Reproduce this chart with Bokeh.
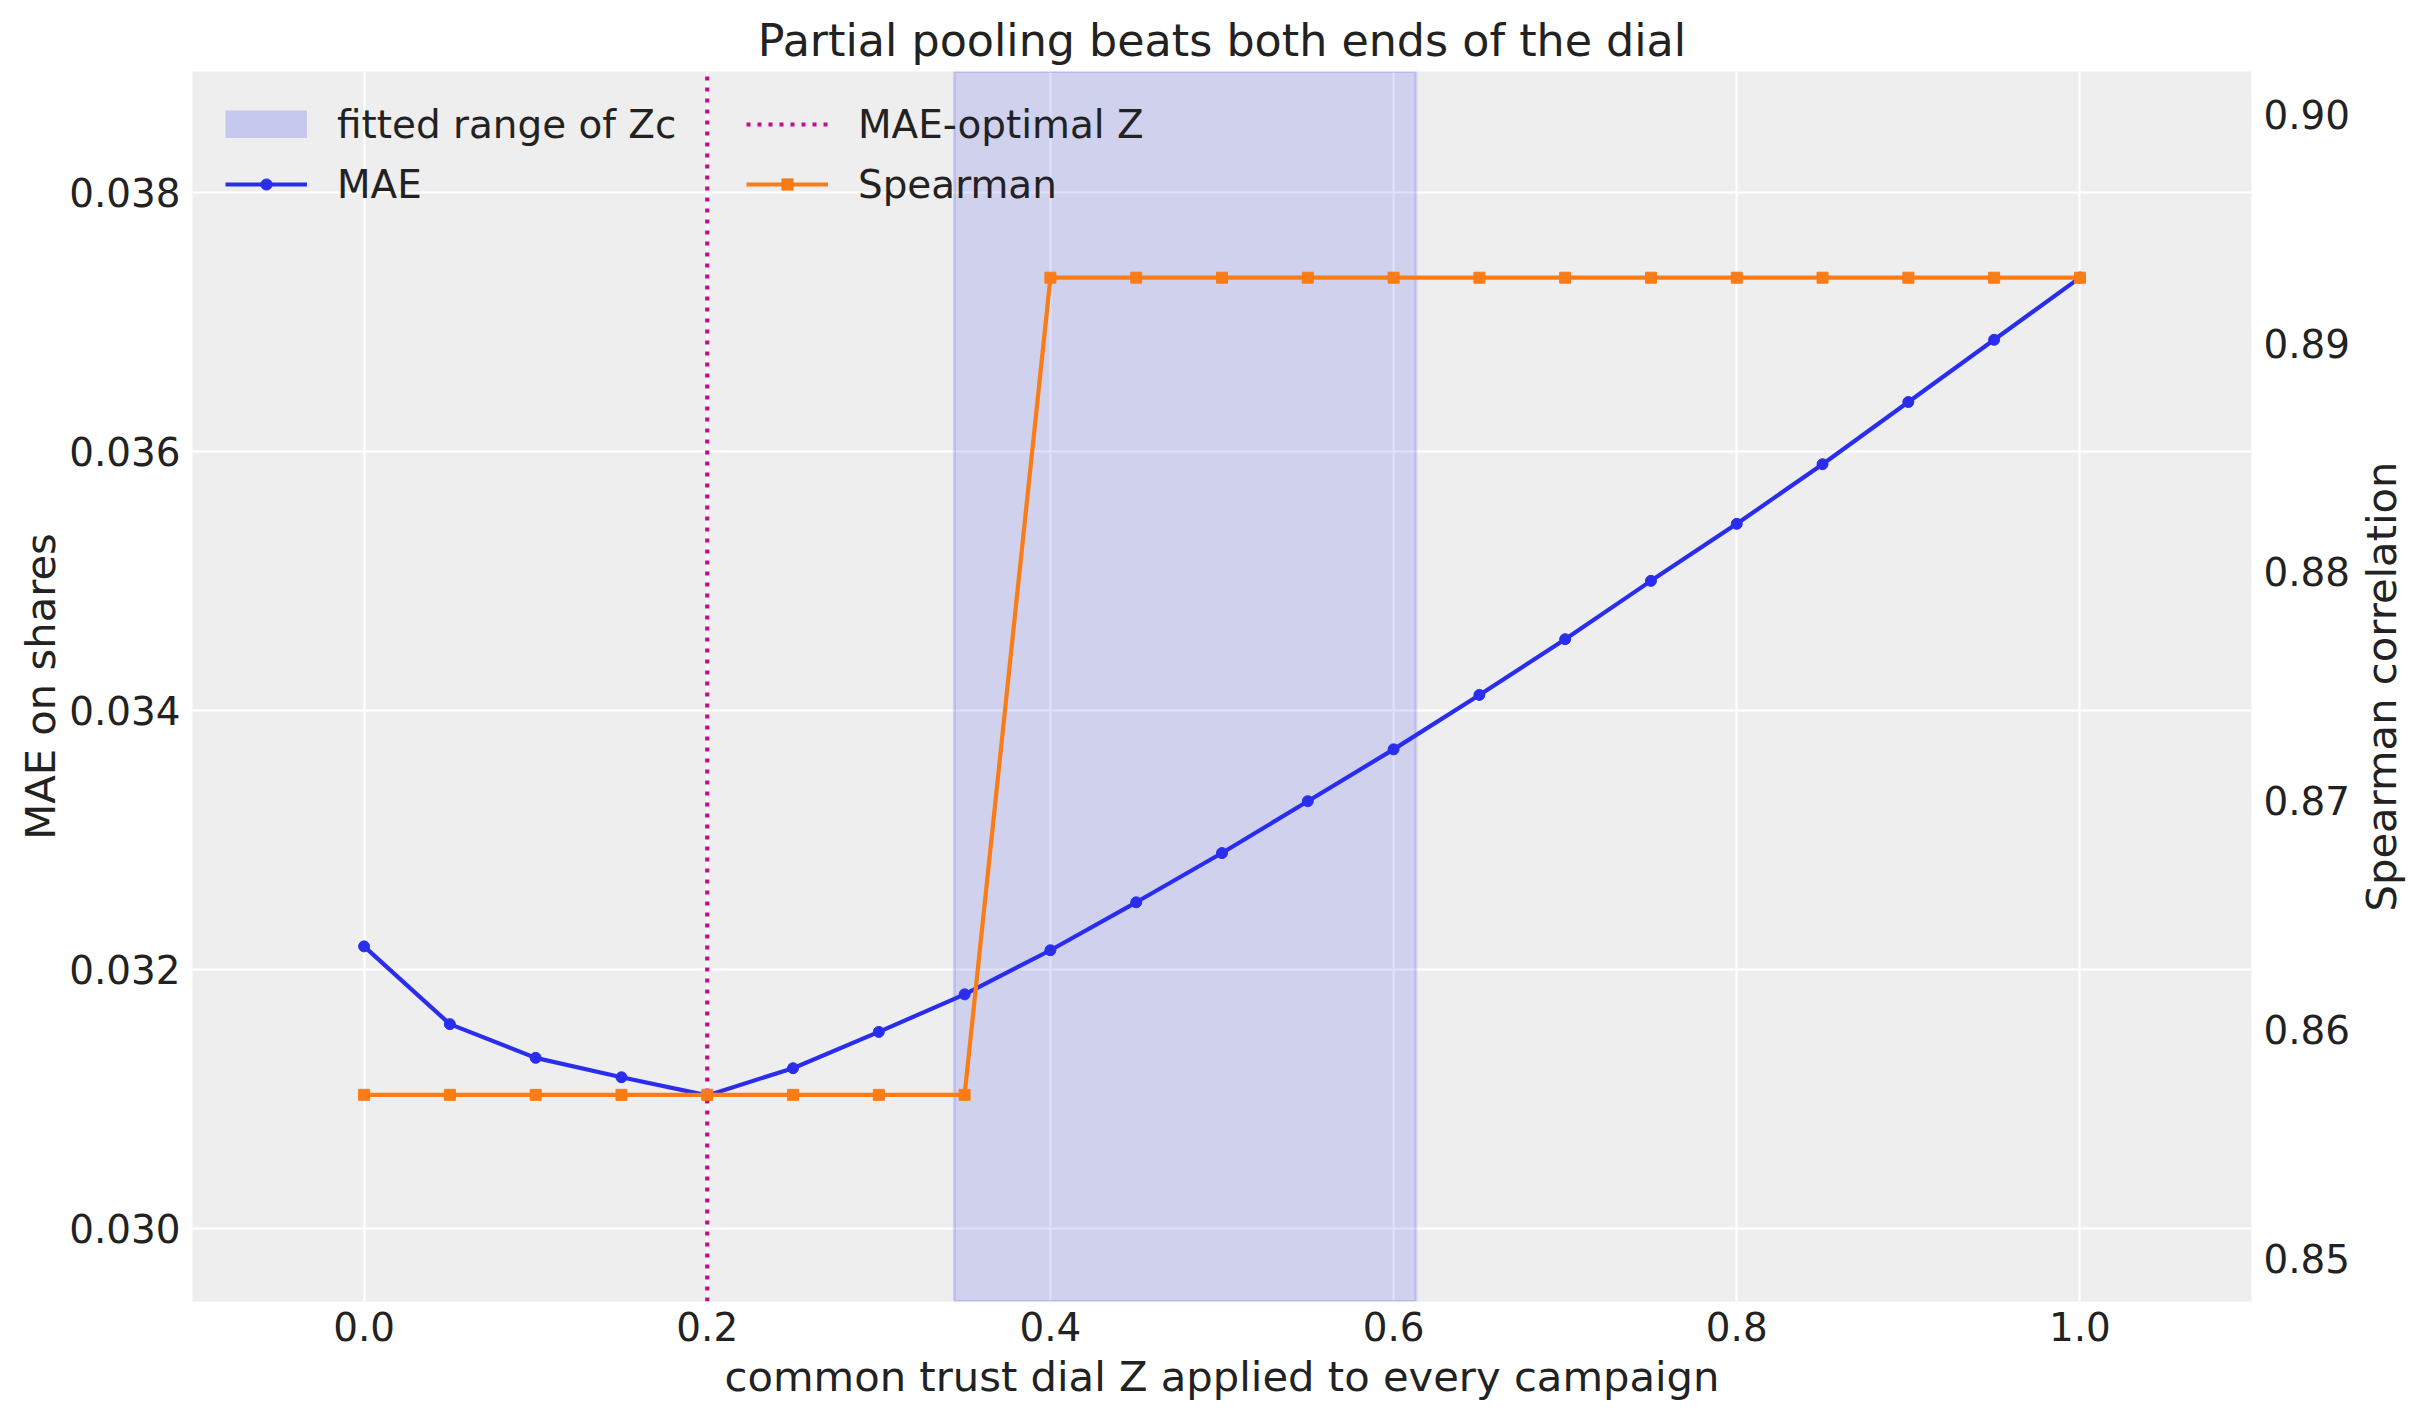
from bokeh.plotting import figure
from bokeh.layouts import row
from bokeh.models import (Range1d, LinearAxis, Legend, LegendItem, FixedTicker,
                          PrintfTickFormatter)
from bokeh.embed import file_html
from bokeh.resources import INLINE

# ---------------- data ----------------
z_values = [0.0, 0.05, 0.1, 0.15, 0.2, 0.25, 0.3, 0.35, 0.4, 0.45, 0.5,
            0.55, 0.6, 0.65, 0.7, 0.75, 0.8, 0.85, 0.9, 0.95, 1.0]
mae_values = [0.03218, 0.03158, 0.03132, 0.03117, 0.03103, 0.03124, 0.03152,
              0.03181, 0.03215, 0.03252, 0.03290, 0.03330, 0.03370, 0.03412,
              0.03455, 0.03500, 0.03544, 0.03590, 0.03638, 0.03686, 0.03734]
spearman_values = [0.857143, 0.857143, 0.857143, 0.857143, 0.857143, 0.857143,
                   0.857143, 0.857143, 0.892857, 0.892857, 0.892857, 0.892857,
                   0.892857, 0.892857, 0.892857, 0.892857, 0.892857, 0.892857,
                   0.892857, 0.892857, 0.892857]
fitted_range = [0.344, 0.613]
mae_optimal_z = [0.2]

x_ticks = [0.0, 0.2, 0.4, 0.6, 0.8, 1.0]
mae_ticks = [0.030, 0.032, 0.034, 0.036, 0.038]
sp_ticks = [0.85, 0.86, 0.87, 0.88, 0.89, 0.90]

x_lim = (-0.1, 1.1)
mae_lim = (0.02944, 0.03893)
sp_lim = (0.84811, 0.90187)

title_text = "Partial pooling beats both ends of the dial"
x_label = "common trust dial Z applied to every campaign"
y_label = "MAE on shares"
y2_label = "Spearman correlation"
labels = ["fitted range of Zc", "MAE", "MAE-optimal Z", "Spearman"]

# ---------------- style ----------------
BLUE = "#2a2eec"
ORANGE = "#fa7c17"
MAGENTA = "#c10c90"
TEXT = "#222222"
FONT = "DejaVu Sans"
TICK_FS = "38.9px"
LABEL_FS = "41.7px"
TITLE_FS = "44.4px"

FRAME_W, FRAME_H = 2059, 1230
BORDER_TOP, BORDER_BOTTOM = 71, 95

p = figure(frame_width=FRAME_W, frame_height=FRAME_H,
           min_border_left=192, min_border_right=100,
           min_border_top=BORDER_TOP, min_border_bottom=BORDER_BOTTOM,
           x_range=Range1d(*x_lim), y_range=Range1d(*mae_lim),
           output_backend="svg", toolbar_location=None,
           background_fill_color="#eeeeee", border_fill_color="white",
           outline_line_color=None)

p.extra_y_ranges = {"sp": Range1d(*sp_lim)}

# title
p.title.text = title_text
p.title.align = "center"
p.title.text_font = FONT
p.title.text_font_size = TITLE_FS
p.title.text_font_style = "normal"
p.title.text_color = TEXT
p.title.standoff = 12

# fitted range span (first in draw order)
span_r = p.quad(left=[fitted_range[0]], right=[fitted_range[1]],
                bottom=[mae_lim[0]], top=[mae_lim[1]],
                fill_color=BLUE, fill_alpha=0.15,
                line_color=BLUE, line_alpha=0.15, line_width=3)

# MAE line
mae_line = p.line(z_values, mae_values, line_color=BLUE, line_width=4.2)
mae_pts = p.scatter(z_values, mae_values, marker="circle", size=11,
                    fill_color=BLUE, line_color=BLUE)

# MAE-optimal vertical line
vline = p.segment(x0=mae_optimal_z, x1=mae_optimal_z,
                  y0=[mae_lim[0]], y1=[mae_lim[1]],
                  line_color=MAGENTA, line_width=4.2, line_dash="4 7")

# Spearman on right axis
sp_line = p.line(z_values, spearman_values, line_color=ORANGE, line_width=4.2,
                 y_range_name="sp")
sp_pts = p.scatter(z_values, spearman_values, marker="square", size=11,
                   fill_color=ORANGE, line_color=ORANGE, y_range_name="sp")

# legend proxy for the span patch (no visible data in the plot)
span_proxy = p.line(x=[fitted_range[0], fitted_range[1]],
                    y=[float("nan"), float("nan")],
                    line_color=BLUE, line_alpha=0.2,
                    line_width=28, line_cap="butt")

# axes
p.xaxis.ticker = FixedTicker(ticks=x_ticks)
p.xaxis.formatter = PrintfTickFormatter(format="%.1f")
p.yaxis.ticker = FixedTicker(ticks=mae_ticks)
p.yaxis.formatter = PrintfTickFormatter(format="%.3f")
p.xaxis.axis_label = x_label
p.yaxis.axis_label = y_label

right_axis = LinearAxis(y_range_name="sp",
                        ticker=FixedTicker(ticks=sp_ticks),
                        formatter=PrintfTickFormatter(format="%.2f"))
p.add_layout(right_axis, "right")


def style_axis(ax):
    ax.axis_line_color = None
    ax.major_tick_line_color = None
    ax.minor_tick_line_color = None
    ax.major_tick_out = 0
    ax.major_tick_in = 0
    ax.major_label_text_font = FONT
    ax.major_label_text_font_size = TICK_FS
    ax.major_label_text_color = TEXT
    ax.axis_label_text_font = FONT
    ax.axis_label_text_font_size = LABEL_FS
    ax.axis_label_text_font_style = "normal"
    ax.axis_label_text_color = TEXT
    ax.major_label_standoff = 12


for ax in [p.xaxis[0], p.yaxis[0], right_axis]:
    style_axis(ax)

p.yaxis[0].axis_label_standoff = 1
p.xaxis.major_label_standoff = 10
p.xaxis.axis_label_standoff = 8

# grid
p.xgrid.ticker = FixedTicker(ticks=x_ticks)
p.ygrid.ticker = FixedTicker(ticks=mae_ticks)
p.grid.grid_line_color = "white"
p.grid.grid_line_width = 2.2
p.xgrid.minor_grid_line_color = None
p.ygrid.minor_grid_line_color = None

# legends (two columns as two legends)
PAD = 29
ROW_H = 48
SPACING = 12
leg_kw = dict(background_fill_alpha=0, border_line_alpha=0,
              label_text_font=FONT, label_text_font_size=TICK_FS,
              label_text_color=TEXT, glyph_width=82, glyph_height=28,
              label_height=ROW_H, label_standoff=30, spacing=SPACING,
              padding=PAD, margin=0)

leg_h = 2 * PAD + 2 * ROW_H + SPACING
legend1 = Legend(items=[LegendItem(label=labels[0], renderers=[span_proxy]),
                        LegendItem(label=labels[1], renderers=[mae_line, mae_pts])],
                 location=(4, FRAME_H - leg_h), **leg_kw)
legend2 = Legend(items=[LegendItem(label=labels[2], renderers=[vline]),
                        LegendItem(label=labels[3], renderers=[sp_line, sp_pts])],
                 location=(525, FRAME_H - leg_h), **leg_kw)
p.add_layout(legend1)
p.add_layout(legend2)

# narrow companion figure carrying the right-hand axis title (reads bottom-to-top)
p2 = figure(frame_width=1, frame_height=FRAME_H,
            min_border_left=46, min_border_right=0,
            min_border_top=BORDER_TOP, min_border_bottom=BORDER_BOTTOM,
            y_range=Range1d(*sp_lim), x_range=Range1d(0, 1),
            output_backend="svg", toolbar_location=None,
            background_fill_color="white", border_fill_color="white",
            outline_line_color=None)
p2.xaxis.visible = False
p2.grid.visible = False
p2.yaxis.ticker = FixedTicker(ticks=[])
style_axis(p2.yaxis[0])
p2.yaxis.major_label_standoff = 0
p2.yaxis.axis_label = y2_label
p2.yaxis.axis_label_standoff = 0

layout = row(p, p2, spacing=0)
open("out.html", "w").write(file_html(layout, INLINE))
